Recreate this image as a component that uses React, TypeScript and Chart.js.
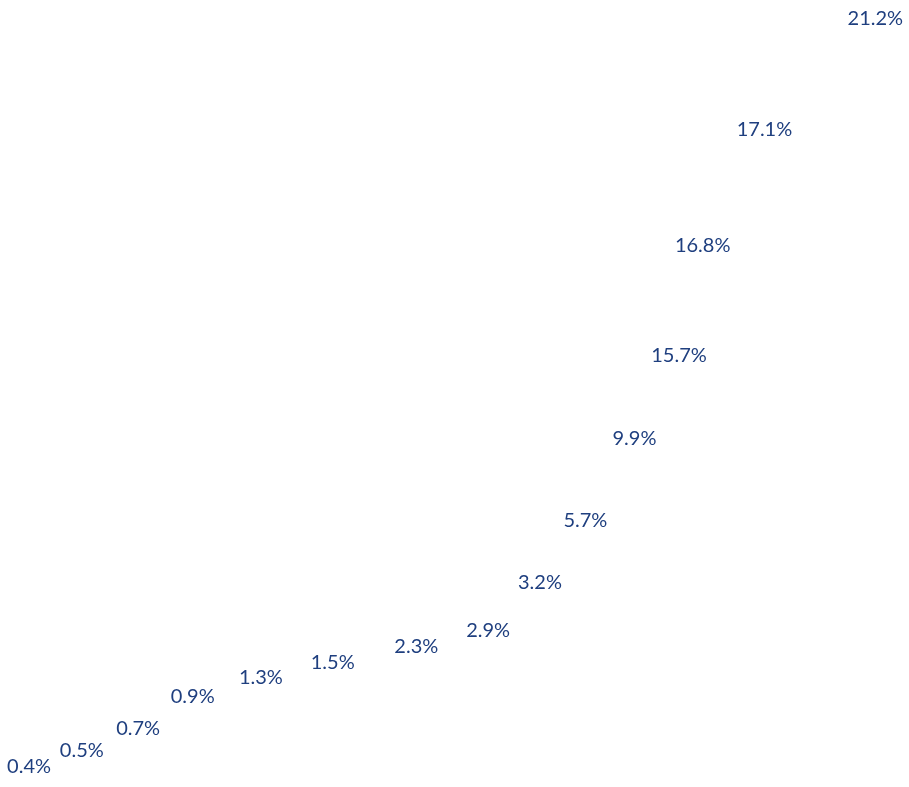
import React, { useEffect, useRef } from "react";
import { Chart, registerables } from "chart.js";

Chart.register(...registerables);

const labels = ["0.4%", "0.5%", "0.7%", "0.9%", "1.3%", "1.5%", "2.3%", "2.9%", "3.2%", "5.7%", "9.9%", "15.7%", "16.8%", "17.1%", "21.2%"];
const xValues = [3.2, 9.0, 15.2, 21.2, 28.7, 36.6, 45.8, 53.7, 59.4, 64.4, 69.8, 74.7, 77.3, 84.1, 96.3];
const yValues = [2.6, 4.6, 7.4, 11.5, 13.9, 15.8, 17.8, 19.9, 26.0, 33.8, 44.3, 54.8, 68.8, 83.5, 97.7];

const TEXT_COLOR = "#1f3f7f";

const labelPlugin = {
  id: "pointLabels",
  afterDatasetsDraw(chart: any) {
    const ctx = chart.ctx;
    const meta = chart.getDatasetMeta(0);
    ctx.save();
    ctx.font = "400 20px Lato, 'Noto Sans', sans-serif";
    ctx.fillStyle = TEXT_COLOR;
    ctx.textAlign = "center";
    ctx.textBaseline = "middle";
    meta.data.forEach((el: any, i: number) => {
      ctx.fillText(labels[i], el.x, el.y);
    });
    ctx.restore();
  },
};

export default function App() {
  const ref = useRef<HTMLCanvasElement | null>(null);
  useEffect(() => {
    document.body.style.margin = "0";
    const chart = new Chart(ref.current as HTMLCanvasElement, {
      type: "scatter",
      data: {
        datasets: [
          {
            data: xValues.map((x, i) => ({ x, y: yValues[i] })),
            pointRadius: 0,
            backgroundColor: "transparent",
            borderColor: "transparent",
          },
        ],
      },
      options: {
        animation: false,
        responsive: false,
        layout: { padding: 0 },
        plugins: { legend: { display: false }, tooltip: { enabled: false } },
        scales: {
          x: { type: "linear", min: 0, max: 100, display: false },
          y: { type: "linear", min: 0, max: 100, display: false },
        },
      },
      plugins: [labelPlugin],
    });
    return () => chart.destroy();
  }, []);
  return (
    <div style={{ width: 909, height: 787, background: "#ffffff" }}>
      <canvas ref={ref} width={909} height={787} style={{ display: "block" }} />
    </div>
  );
}
